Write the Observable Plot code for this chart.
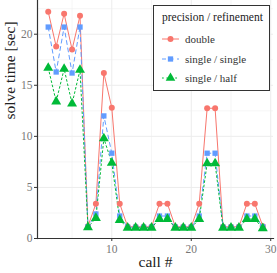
<!DOCTYPE html>
<html><head><meta charset="utf-8">
<script src="https://cdn.jsdelivr.net/npm/d3@7"></script>
<script src="https://cdn.jsdelivr.net/npm/@observablehq/plot@0.6"></script>
<style>
body{margin:0;background:#fff;}
#wrap{position:relative;width:277px;height:273px;font-family:"Liberation Serif",serif;}
#legend{position:absolute;left:153px;top:5px;width:115px;height:84px;border:1px solid #333;background:#fff;box-sizing:content-box;}
#legend .t{position:absolute;left:8px;top:5px;font-size:11.5px;color:#222;white-space:nowrap;}
#legend .i{position:absolute;left:8px;font-size:11px;color:#333;white-space:nowrap;display:flex;align-items:center;}
#legend svg{margin-right:6px;}
</style></head>
<body><div id="wrap"></div>
<script>
const calls = [2,3,4,5,6,7,8,9,10,11,12,13,14,15,16,17,18,19,20,21,22,23,24,25,26,27,28,29];
const seriesNames = ["double","single / single","single / half"];
const doubleVals = [22.2,18.8,22.0,18.5,21.8,1.2,3.4,16.2,12.8,3.4,1.15,1.15,1.15,1.15,3.4,3.4,1.15,1.15,1.15,3.4,12.75,12.75,1.15,1.15,1.15,3.4,3.4,1.2];
const singleVals = [20.7,16.3,20.7,16.2,20.7,1.15,2.4,12.0,8.35,2.2,1.1,1.1,1.1,1.1,2.2,2.2,1.1,1.1,1.1,2.2,8.35,8.35,1.1,1.1,1.1,2.2,2.2,1.15];
const halfVals = [16.7,13.4,16.6,13.2,16.5,1.1,2.0,9.8,7.4,1.8,1.05,1.05,1.05,1.05,1.9,1.9,1.05,1.05,1.05,1.9,7.35,7.35,1.05,1.05,1.05,1.9,1.9,1.0];
const colors = ["#F8766D","#619CFF","#00BA38"];
const dashes = [null,"4,3.5","1.8,2.6"];
const symbols = ["circle","square","triangle"];

const data = [];
[doubleVals,singleVals,halfVals].forEach((vals,s)=>vals.forEach((v,i)=>data.push({call:calls[i],time:v,series:seriesNames[s]})));

const gridC = "#ececec";
const marks = [
  Plot.gridX([5,15,25],{stroke:gridC,strokeOpacity:1,strokeWidth:0.5}),
  Plot.gridY([2.5,7.5,12.5,17.5,22.5],{stroke:gridC,strokeOpacity:1,strokeWidth:0.5}),
  Plot.gridX([10,20,30],{stroke:gridC,strokeOpacity:1,strokeWidth:1}),
  Plot.gridY([0,5,10,15,20],{stroke:gridC,strokeOpacity:1,strokeWidth:1}),
];
seriesNames.forEach((name,s)=>{
  marks.push(Plot.line(data.filter(d=>d.series===name),{x:"call",y:"time",stroke:colors[s],strokeWidth:1,strokeDasharray:dashes[s]}));
});
seriesNames.forEach((name,s)=>{
  marks.push(Plot.dot(data.filter(d=>d.series===name),{x:"call",y:"time",fill:colors[s],stroke:"none",symbol:symbols[s],r:s===2?3.7:3}));
});
marks.push(
  Plot.axisX({ticks:[10,20,30],tickSize:3,tickPadding:3,stroke:"#333",fill:"#777",fontSize:11.5,label:null}),
  Plot.axisY({ticks:[0,5,10,15,20],tickSize:3,tickPadding:2,stroke:"#333",fill:"#777",fontSize:11.5,label:null}),
  Plot.frame({anchor:"left",stroke:"#333",strokeWidth:1.2}),
  Plot.frame({anchor:"bottom",stroke:"#333",strokeWidth:1.2}),
  Plot.text(["solve time [sec]"],{frameAnchor:"left",dx:-27,rotate:-90,fontSize:15.5,fill:"#222"}),
  Plot.text(["call #"],{frameAnchor:"bottom",dy:28,fontSize:15.5,fill:"#222"})
);

const chart = Plot.plot({
  width:277,height:273,
  marginLeft:37,marginRight:4,marginTop:0,marginBottom:35,
  style:{fontFamily:"Liberation Serif",background:"white",overflow:"visible"},
  x:{domain:[0.65,30.35]},
  y:{domain:[0,23.3]},
  marks
});
const wrap = document.getElementById("wrap");
wrap.appendChild(chart);

const lg = document.createElement("div");
lg.id="legend";
let html = `<div class="t">precision / refinement</div>`;
const sym = {circle:d3.symbolCircle,square:d3.symbolSquare,triangle:d3.symbolTriangle};
seriesNames.forEach((name,s)=>{
  const p = d3.symbol(sym[symbols[s]], s===2?40:28)();
  html += `<div class="i" style="top:${26+s*19.5}px"><svg width="17" height="14"><line x1="0" x2="17" y1="7" y2="7" stroke="${colors[s]}" stroke-width="1" ${dashes[s]?`stroke-dasharray="${dashes[s]}"`:""}/><path d="${p}" transform="translate(8.5,7)" fill="${colors[s]}"/></svg>${name}</div>`;
});
lg.innerHTML = html;
wrap.appendChild(lg);
</script></body></html>
